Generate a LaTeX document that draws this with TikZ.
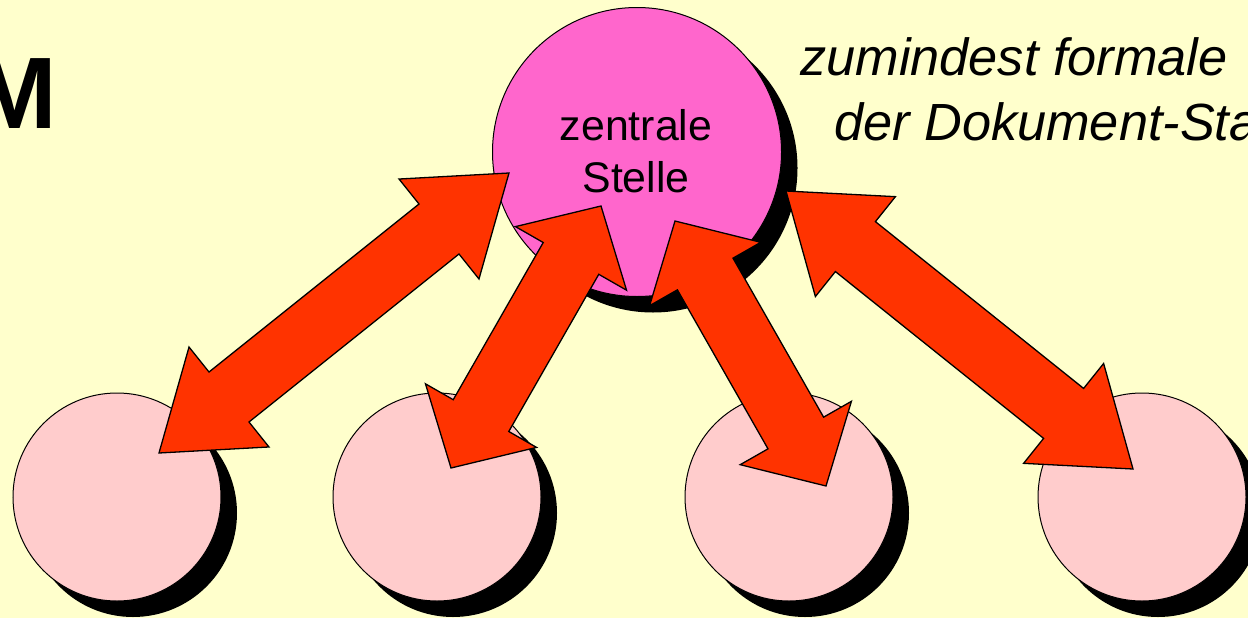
\documentclass[tikz,border=0pt]{standalone}
\usepackage{fontspec}
\setmainfont{Liberation Sans}
\usetikzlibrary{calc,shadows}
\definecolor{bgyellow}{HTML}{FFFFCC}
\definecolor{centremagenta}{HTML}{FF66CC}
\definecolor{clientpink}{HTML}{FFCCCC}
\definecolor{arrowred}{HTML}{FF3300}
\tikzset{
  blackshadow/.style={drop shadow={shadow xshift=16bp, shadow yshift=-16bp, fill=black, opacity=1}},
  % double block arrow between two tips, head = 1/5 of the length
  blockarrow/.style={draw=black, line width=1.3bp, fill=arrowred, line join=miter,
    to path={
      -- ($(\tikztostart)!0.2!(\tikztotarget)!64bp!90:(\tikztotarget)$)
      -- ($(\tikztostart)!0.2!(\tikztotarget)!32bp!90:(\tikztotarget)$)
      -- ($(\tikztostart)!0.8!(\tikztotarget)!32bp!-90:(\tikztostart)$)
      -- ($(\tikztostart)!0.8!(\tikztotarget)!64bp!-90:(\tikztostart)$)
      -- (\tikztotarget)
      -- ($(\tikztostart)!0.8!(\tikztotarget)!64bp!90:(\tikztostart)$)
      -- ($(\tikztostart)!0.8!(\tikztotarget)!32bp!90:(\tikztostart)$)
      -- ($(\tikztostart)!0.2!(\tikztotarget)!32bp!-90:(\tikztotarget)$)
      -- ($(\tikztostart)!0.2!(\tikztotarget)!64bp!-90:(\tikztotarget)$)
      -- cycle}}
}

\begin{document}
\begin{tikzpicture}[every node/.style={inner sep=0pt},
    centre/.style={circle, draw, line width=1bp, fill=centremagenta, minimum size=289bp, blackshadow},
    client/.style={circle, draw, line width=1bp, fill=clientpink, minimum size=208bp, blackshadow}]
  % Background
  \path[use as bounding box, fill=bgyellow] (0bp, 0bp) rectangle (1248bp, -618bp);
  \clip (0bp, 0bp) rectangle (1248bp, -618bp);

  % Texts
  \node (title) at (57bp, -128bp) [anchor=base east] {\fontsize{102}{102}\selectfont\bfseries M};
  \node (note1) at (800bp, -75bp) [anchor=base west] {\fontsize{52.5}{65}\selectfont\itshape zumindest formale};
  \node (note2) at (834bp, -140bp) [anchor=base west] {\fontsize{52.5}{65}\selectfont\itshape der Dokument-Sta};

  % Circles
  \node (central) at (637bp, -152bp) [centre] {};
  \node (centraltop) at (636bp, -140bp) [anchor=base] {\fontsize{43}{52}\selectfont zentrale};
  \node (centralbottom) at (636bp, -192bp) [anchor=base] {\fontsize{43}{52}\selectfont Stelle};

  \node (client1) at (117bp, -497bp) [client] {};
  \node (client2) at (437bp, -497bp) [client] {};
  \node (client3) at (789bp, -497bp) [client] {};
  \node (client4) at (1142bp, -497bp) [client] {};

  % Arrow tips
  \coordinate (tip1a) at (509bp, -173bp);
  \coordinate (tip1b) at (159bp, -453bp);
  \coordinate (tip2a) at (601bp, -206bp);
  \coordinate (tip2b) at (451bp, -468bp);
  \coordinate (tip3a) at (675bp, -221bp);
  \coordinate (tip3b) at (826bp, -486bp);
  \coordinate (tip4a) at (786bp, -191bp);
  \coordinate (tip4b) at (1133bp, -469bp);

  % Arrows
  \draw[blockarrow] (tip1a) to (tip1b);
  \draw[blockarrow] (tip2a) to (tip2b);
  \draw[blockarrow] (tip3a) to (tip3b);
  \draw[blockarrow] (tip4a) to (tip4b);
\end{tikzpicture}
\end{document}
